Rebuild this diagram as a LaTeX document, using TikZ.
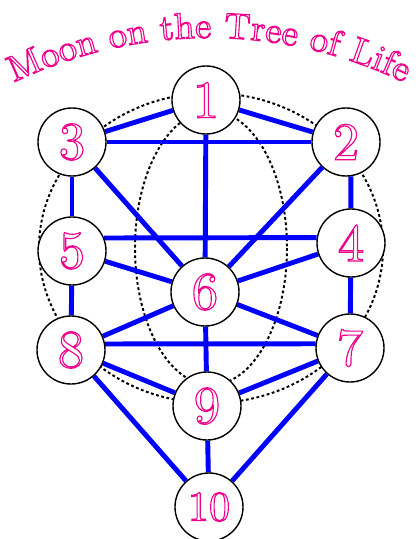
\documentclass[tikz,border=0pt]{standalone}
\usepackage{fontspec}
\usetikzlibrary{decorations.text,backgrounds}
\newfontfamily\treefont{lmroman10-regular}[Extension=.otf]
\newcommand\hollowtext{\special{pdf:literal direct 1 Tr 0.8 w}}

\begin{document}
\begin{tikzpicture}[
    x=0.025cm,y=-0.025cm,
    sephira/.style={
        circle,
        draw=black,
        line width=1pt,
        fill=white,
        minimum size=1.7cm,
        inner sep=0pt,
        text=magenta,
        font=\treefont\fontsize{38}{40}\selectfont\hollowtext
    },
    smallsephira/.style={sephira, font=\treefont\fontsize{30}{32}\selectfont\hollowtext},
    channel/.style={draw=blue, line width=3.5pt},
    orbit/.style={draw=black, line width=1.4pt, dash pattern=on 2pt off 1.8pt}
]
\useasboundingbox (0,0) rectangle (417,539);

% -----------------------------------------------------------------------------
% Title on an arc
% -----------------------------------------------------------------------------
\path[decorate, decoration={
        text along path,
        text={|\treefont\fontsize{26}{30}\selectfont\hollowtext|Moon on the Tree of Life},
        text color=magenta,
        text align=center}]
    (13,83) arc[start angle=-115.9, end angle=-64.1, radius=449];

% -----------------------------------------------------------------------------
% The ten sephiroth
% -----------------------------------------------------------------------------
\node[sephira] (s1) at (206,100) {1};
\node[sephira] (s2) at (346,142) {2};
\node[sephira] (s3) at (72,142) {3};
\node[sephira] (s4) at (351,243) {4};
\node[sephira] (s5) at (72,251) {5};
\node[sephira] (s6) at (205,292) {6};
\node[sephira] (s7) at (350,348) {7};
\node[sephira] (s8) at (71,350) {8};
\node[sephira] (s9) at (207,406) {9};
\node[smallsephira] (s10) at (209,507) {10};

% -----------------------------------------------------------------------------
% Orbits and the 22 paths, behind the circles
% -----------------------------------------------------------------------------
\begin{scope}[on background layer]
\draw[orbit] (211,248) ellipse [x radius=172, y radius=155];
\draw[orbit] (211,248) ellipse [x radius=76, y radius=137];

\draw[channel] (s1) -- (s3);
\draw[channel] (s1) -- (s2);
\draw[channel] (s1) -- (s6);
\draw[channel] (s3) -- (s2);
\draw[channel] (s3) -- (s5);
\draw[channel] (s2.-82) -- (s4);
\draw[channel] (s3) -- (s6);
\draw[channel] (s2) -- (s6);
\draw[channel] (s5.22) -- (s4.171);
\draw[channel] (s5) -- (s6);
\draw[channel] (s4) -- (s6);
\draw[channel] (s5) -- (s8);
\draw[channel] (s4) -- (s7);
\draw[channel] (s6) -- (s8);
\draw[channel] (s6) -- (s7);
\draw[channel] (s8.10) -- (s7.173);
\draw[channel] (s6) -- (s9);
\draw[channel] (s8) -- (s9);
\draw[channel] (s7) -- (s9);
\draw[channel] (s8) -- (s10);
\draw[channel] (s7) -- (s10);
\draw[channel] (s9) -- (s10);
\end{scope}

\end{tikzpicture}
\end{document}
